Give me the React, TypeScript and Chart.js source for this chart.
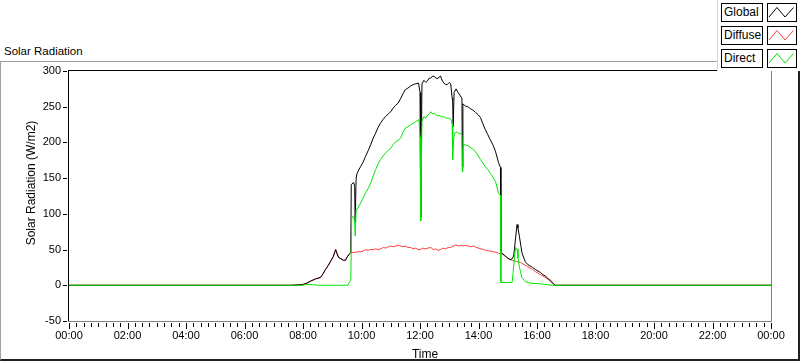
import React, { useEffect, useRef } from "react";
import { Chart, registerables } from "chart.js";

Chart.register(...registerables);

// ---- data (time "HH:MM", W/m2) ----
const globalTimes = ["00:00","07:35","07:59","08:08","08:16","08:26","08:36","08:41","08:46","08:52","08:57","09:02","09:07","09:10","09:13","09:18","09:23","09:27","09:31","09:34","09:38","09:39","09:44","09:46","09:47","09:49","09:51","09:58","10:03","10:08","10:14","10:19","10:24","10:29","10:34","10:39","10:44","10:49","10:55","11:00","11:05","11:10","11:15","11:20","11:25","11:30","11:35","11:41","11:46","11:51","11:57","12:00","12:01","12:02","12:04","12:08","12:12","12:15","12:19","12:22","12:26","12:30","12:35","12:39","12:42","12:46","12:49","12:53","12:56","13:00","13:03","13:06","13:07","13:08","13:10","13:14","13:18","13:23","13:26","13:27","13:28","13:33","13:38","13:44","13:49","13:54","13:59","14:04","14:09","14:14","14:19","14:24","14:30","14:35","14:41","14:45","14:46","14:50","14:55","15:00","15:05","15:09","15:12","15:14","15:16","15:19","15:21","15:24","15:27","15:29","15:33","15:36","15:41","15:46","15:51","15:57","16:02","16:07","16:12","16:17","16:22","16:27","16:32","16:38","24:00"];
const globalValues = [0,0,1,3,6,9,11,16,22,28,34,40,50,44,39,37,35,35,40,43,46,141,144,138,88,150,157,166,172,180,189,197,206,213,221,227,232,236,240,243,248,252,255,261,268,274,276,279,281,282,283,270,266,95,282,287,284,286,290,290,293,292,289,291,293,286,283,281,281,284,282,262,259,222,270,275,270,265,262,165,254,251,250,247,245,242,239,235,226,218,211,204,196,187,172,165,46,44,41,38,36,37,41,52,66,85,80,68,55,46,38,33,29,27,25,22,20,18,15,13,10,6,3,0,0];

const diffuseTimes = ["00:00","07:35","07:59","08:08","08:16","08:26","08:36","08:41","08:46","08:52","08:57","09:02","09:07","09:10","09:13","09:18","09:23","09:27","09:31","09:34","09:38","09:41","09:47","09:53","09:58","10:04","10:09","10:14","10:19","10:24","10:29","10:34","10:39","10:45","10:50","10:55","11:00","11:05","11:10","11:15","11:20","11:25","11:30","11:35","11:41","11:46","11:51","11:56","12:01","12:06","12:11","12:16","12:22","12:27","12:32","12:37","12:42","12:47","12:52","12:58","13:03","13:08","13:12","13:16","13:21","13:26","13:29","13:34","13:39","13:45","13:50","13:55","14:00","14:05","14:10","14:15","14:20","14:25","14:31","14:36","14:41","14:48","14:52","14:56","15:00","15:05","15:10","15:15","15:20","15:26","15:31","15:36","15:41","15:46","15:51","15:57","16:02","16:07","16:12","16:17","16:22","16:27","16:31","16:34","16:38","24:00"];
const diffuseValues = [0,0,1,3,6,9,11,16,22,28,34,40,50,44,39,37,35,35,40,43,46,46,46,47,47,48,50,49,50,50,51,50,51,53,52,54,55,54,55,56,55,54,55,53,53,51,52,50,50,52,51,52,53,50,51,49,50,52,51,53,53,55,56,56,55,56,55,56,55,54,55,53,52,51,50,49,48,48,47,46,45,44,42,40,38,36,35,34,33,32,30,28,26,24,22,19,17,15,13,11,9,8,5,2,0,0];

const directTimes = ["00:00","08:00","08:05","08:20","08:30","09:32","09:34","09:38","09:40","09:44","09:46","09:47","09:49","09:51","09:58","10:03","10:08","10:14","10:19","10:24","10:29","10:34","10:39","10:44","10:49","10:55","11:00","11:05","11:10","11:15","11:20","11:25","11:30","11:35","11:41","11:46","11:51","11:58","12:00","12:01","12:02","12:04","12:08","12:12","12:15","12:19","12:22","12:26","12:30","12:35","12:39","12:44","12:49","12:54","12:59","13:04","13:06","13:07","13:09","13:11","13:16","13:20","13:23","13:26","13:27","13:28","13:30","13:35","13:40","13:45","13:50","13:57","14:04","14:09","14:14","14:19","14:24","14:30","14:35","14:41","14:45","14:46","15:00","15:09","15:11","15:14","15:16","15:19","15:21","15:24","15:29","15:36","15:46","16:07","16:31","24:00"];
const directValues = [0,0,1,1,0,0,3,7,97,95,90,69,106,106,115,122,129,136,143,153,162,170,176,181,185,189,192,197,201,203,206,214,220,222,225,227,229,232,208,200,90,230,236,234,238,240,243,240,241,237,238,236,236,234,234,232,225,176,205,213,215,212,213,210,159,190,197,196,195,192,190,184,176,171,166,162,157,151,145,129,126,4,4,4,18,40,53,51,38,25,11,5,3,2,0,0];

const seriesNames = ["Global", "Diffuse", "Direct"];
const seriesColors = ["#000000", "#ff3c3c", "#00e600"];
const seriesOrder = [2, 3, 1];
const yTickValues = [-50, 0, 50, 100, 150, 200, 250, 300];

const FONT = "'Liberation Sans', Arial, sans-serif";

function toHours(t: string): number {
  const [h, m] = t.split(":").map(Number);
  return h + m / 60;
}
function pts(times: string[], vals: number[]) {
  return times.map((t, i) => ({ x: toHours(t), y: vals[i] }));
}

const framePlugin = {
  id: "labviewFrame",
  afterDraw(chart: any) {
    const { ctx, chartArea: a, scales } = chart;
    const xs = scales.x;
    const ys = scales.y;
    ctx.save();
    // plot borders
    ctx.fillStyle = "#000";
    ctx.fillRect(a.left - 1, a.top - 1, a.right - a.left + 1, 1);
    ctx.fillRect(a.left - 1, a.top - 1, 1, a.bottom - a.top + 1);
    ctx.fillStyle = "#808080";
    ctx.fillRect(a.right, a.top - 1, 1, a.bottom - a.top + 2);
    ctx.fillRect(a.left - 1, a.bottom, a.right - a.left + 1, 1);
    // x ticks
    ctx.fillStyle = "#000";
    xs.ticks.forEach((t: any) => {
      const px = Math.round(xs.getPixelForValue(t.value));
      const major = Math.abs(t.value % 2) < 1e-9;
      ctx.fillRect(px, a.bottom + 2, 1, major ? 6 : 4);
    });
    // y ticks
    ys.ticks.forEach((t: any) => {
      const py = Math.round(ys.getPixelForValue(t.value));
      ctx.fillRect(a.left - 6, py, 4, 1);
    });
    // axis titles
    ctx.font = `12px ${FONT}`;
    ctx.fillStyle = "#000";
    ctx.textAlign = "center";
    ctx.textBaseline = "alphabetic";
    ctx.fillText("Time", 425, 358);
    ctx.translate(35, 183);
    ctx.rotate(-Math.PI / 2);
    ctx.fillText("Solar Radiation (W/m2)", 0, 0);
    ctx.restore();
  },
};

function Swatch({ color }: { color: string }) {
  return (
    <div
      style={{
        position: "absolute",
        left: 767,
        width: 30,
        height: 19,
        boxSizing: "border-box",
        border: "1px solid #000",
        background: "#fff",
      }}
    >
      <svg width={28} height={17} style={{ display: "block" }}>
        <polyline
          points="1,13 9,3.5 17,13 25.5,3.5"
          fill="none"
          stroke={color}
          strokeWidth={1}
        />
      </svg>
    </div>
  );
}

export default function App() {
  const canvasRef = useRef<HTMLCanvasElement | null>(null);

  useEffect(() => {
    const canvas = canvasRef.current;
    if (!canvas) return;
    const datasets = [
      pts(globalTimes, globalValues),
      pts(diffuseTimes, diffuseValues),
      pts(directTimes, directValues),
    ].map((data, i) => ({
      label: seriesNames[i],
      data,
      borderColor: seriesColors[i],
      backgroundColor: seriesColors[i],
      borderWidth: 1,
      pointRadius: 0,
      tension: 0,
      fill: false,
      order: seriesOrder[i],
    }));

    const chart = new Chart(canvas, {
      type: "line",
      data: { datasets },
      options: {
        animation: false,
        responsive: false,
        devicePixelRatio: 1,
        plugins: { legend: { display: false }, tooltip: { enabled: false } },
        layout: { padding: { top: 71, right: 29, left: 0, bottom: 0 } },
        scales: {
          x: {
            type: "linear",
            min: 0,
            max: 24,
            afterFit: (s: any) => {
              s.height = 40;
            },
            ticks: {
              stepSize: 0.25,
              autoSkip: false,
              maxRotation: 0,
              minRotation: 0,
              padding: 8,
              color: "#000",
              font: { family: FONT, size: 11 },
              callback: (v: any) => {
                const n = Number(v);
                if (Math.abs(n % 2) > 1e-9) return "";
                const h = Math.round(n) % 24;
                return `${String(h).padStart(2, "0")}:00`;
              },
            },
            grid: { display: false, drawTicks: false },
            border: { display: false },
          },
          y: {
            type: "linear",
            min: -50,
            max: 300,
            afterFit: (s: any) => {
              s.width = 69;
            },
            afterBuildTicks: (s: any) => {
              s.ticks = yTickValues.map((v) => ({ value: v }));
            },
            ticks: {
              padding: 8,
              color: "#000",
              font: { family: FONT, size: 11 },
            },
            grid: { display: false, drawTicks: false },
            border: { display: false },
          },
        },
      },
      plugins: [framePlugin],
    } as any);
    return () => chart.destroy();
  }, []);

  const legendTops = [3, 26, 49];

  return (
    <div
      style={{
        position: "fixed",
        left: 0,
        top: 0,
        width: 800,
        height: 361,
        background: "#fff",
        overflow: "hidden",
        fontFamily: FONT,
      }}
    >
      <div
        style={{
          position: "absolute",
          left: 0,
          top: 61,
          width: 800,
          height: 300,
          boxSizing: "border-box",
          borderTop: "1px solid #a0a0a0",
          borderLeft: "1px solid #a0a0a0",
          borderRight: "2px solid #202020",
          borderBottom: "2px solid #202020",
        }}
      />
      <div
        style={{
          position: "absolute",
          left: 4,
          top: 45,
          fontSize: 11.5,
          lineHeight: "12px",
          color: "#000",
          whiteSpace: "nowrap",
        }}
      >
        Solar Radiation
      </div>
      <canvas
        ref={canvasRef}
        width={800}
        height={361}
        style={{ position: "absolute", left: 0, top: 0, width: 800, height: 361 }}
      />
      <div
        style={{
          position: "absolute",
          left: 717,
          top: 0,
          width: 83,
          height: 71,
          background: "#fff",
          borderLeft: "1px solid #d4d4d4",
          boxSizing: "border-box",
        }}
      />
      {seriesNames.map((name, i) => (
        <div key={name} style={{ position: "absolute", left: 0, top: legendTops[i] }}>
          <div
            style={{
              position: "absolute",
              left: 721,
              top: 0,
              width: 42,
              height: 19,
              boxSizing: "border-box",
              border: "1px solid #000",
              background: "#fff",
              fontSize: 12,
              lineHeight: "17px",
              paddingLeft: 2,
              color: "#000",
              whiteSpace: "nowrap",
            }}
          >
            {name}
          </div>
          <Swatch color={seriesColors[i]} />
        </div>
      ))}
    </div>
  );
}
